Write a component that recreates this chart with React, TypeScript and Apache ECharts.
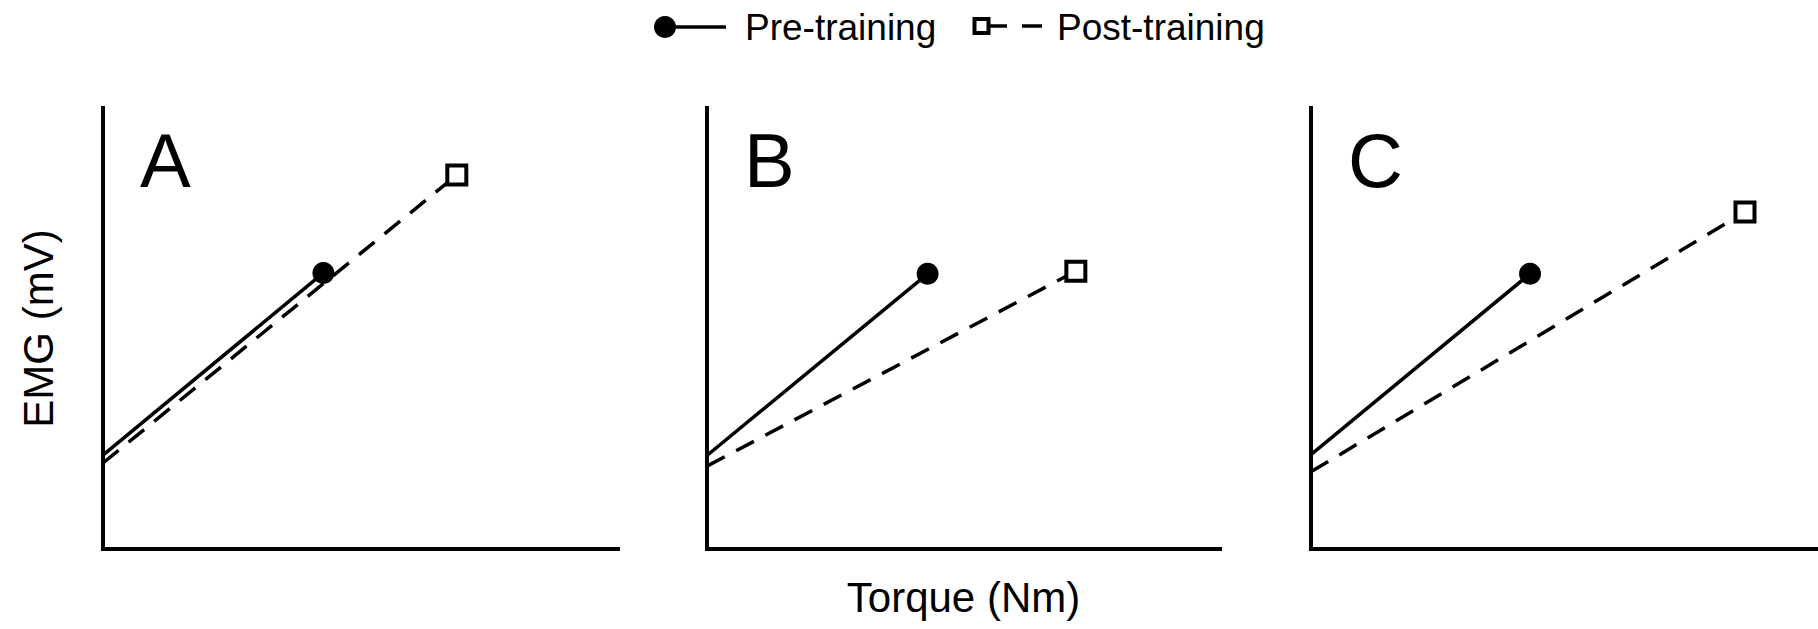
import React, { useEffect, useRef } from "react";
import * as echarts from "echarts";

// ---- data (arbitrary units, 0-100 on each axis) ----
const panelLabels = ["A", "B", "C"];
const preIntercept = [21.3, 21.2, 21.4];
const preTorque = [42.8, 43.0, 43.2];
const preEMG = [62.6, 62.4, 62.4];
const postIntercept = [19.5, 18.8, 17.5];
const postTorque = [68.7, 71.9, 85.6];
const postEMG = [84.8, 63.0, 76.4];
const legendNames = ["Pre-training", "Post-training"];
const xAxisTitle = "Torque (Nm)";
const yAxisTitle = "EMG (mV)";

// ---- layout ----
const gridLefts = [103, 707, 1311];
const gridWidths = [515, 513, 507];
const GRID_TOP = 108;
const GRID_H = 441;
const FONT = "'Liberation Sans', Arial, Helvetica, sans-serif";

export default function App() {
  const ref = useRef<HTMLDivElement>(null);

  useEffect(() => {
    document.body.style.margin = "0";
    if (!ref.current) return;
    const chart = echarts.init(ref.current, undefined, { renderer: "svg" });

    const axisLine = { show: true, lineStyle: { color: "#000", width: 4, cap: "square" } };

    const grids = panelLabels.map((_, i) => ({
      left: gridLefts[i],
      top: GRID_TOP,
      width: gridWidths[i],
      height: GRID_H,
      containLabel: false,
    }));

    const xAxes = panelLabels.map((_, i) => ({
      type: "value",
      gridIndex: i,
      min: 0,
      max: 100,
      axisLine,
      axisTick: { show: false },
      axisLabel: { show: false },
      splitLine: { show: false },
    }));
    const yAxes = panelLabels.map((_, i) => ({
      type: "value",
      gridIndex: i,
      min: 0,
      max: 100,
      axisLine,
      axisTick: { show: false },
      axisLabel: { show: false },
      splitLine: { show: false },
    }));

    const series: any[] = [];
    panelLabels.forEach((_, i) => {
      series.push({
        name: legendNames[1],
        type: "line",
        xAxisIndex: i,
        yAxisIndex: i,
        data: [
          { value: [0, postIntercept[i]], symbol: "none" },
          { value: [postTorque[i], postEMG[i]] },
        ],
        symbol: "rect",
        symbolSize: 19,
        showSymbol: true,
        lineStyle: { color: "#000", width: 3.5, type: [20, 13] },
        itemStyle: { color: "#fff", borderColor: "#000", borderWidth: 4 },
        z: 2,
        silent: true,
      });
      series.push({
        name: legendNames[0],
        type: "line",
        xAxisIndex: i,
        yAxisIndex: i,
        data: [
          { value: [0, preIntercept[i]], symbol: "none" },
          { value: [preTorque[i], preEMG[i]] },
        ],
        symbol: "circle",
        symbolSize: 22,
        showSymbol: true,
        lineStyle: { color: "#000", width: 3.5 },
        itemStyle: { color: "#000", borderWidth: 0 },
        z: 3,
        silent: true,
      });
    });

    const textStyle = (text: string, size: number, align: string, vAlign: string) => ({
      text,
      font: `${size}px ${FONT}`,
      fill: "#000",
      align,
      verticalAlign: vAlign,
    });

    const graphic: any[] = [
      // panel letters
      ...panelLabels.map((t, i) => ({
        type: "text",
        x: gridLefts[i] + 37,
        y: 122,
        style: textStyle(t, 76, "left", "top"),
      })),
      // axis titles
      {
        type: "text",
        x: 38,
        y: GRID_TOP + GRID_H / 2,
        rotation: Math.PI / 2,
        style: textStyle(yAxisTitle, 42, "center", "middle"),
      },
      {
        type: "text",
        x: gridLefts[1] + gridWidths[1] / 2,
        y: 576,
        style: textStyle(xAxisTitle, 42, "center", "top"),
      },
      // legend: pre-training
      {
        type: "line",
        shape: { x1: 665, y1: 27, x2: 726, y2: 27 },
        style: { stroke: "#000", lineWidth: 3.5 },
      },
      {
        type: "circle",
        shape: { cx: 665, cy: 27, r: 11 },
        style: { fill: "#000" },
      },
      {
        type: "text",
        x: 745,
        y: 9,
        style: textStyle(legendNames[0], 37, "left", "top"),
      },
      // legend: post-training
      {
        type: "line",
        shape: { x1: 988, y1: 26, x2: 1007, y2: 26 },
        style: { stroke: "#000", lineWidth: 3.5 },
      },
      {
        type: "line",
        shape: { x1: 1022, y1: 26, x2: 1042, y2: 26 },
        style: { stroke: "#000", lineWidth: 3.5 },
      },
      {
        type: "rect",
        shape: { x: 974.5, y: 19, width: 14, height: 14 },
        style: { fill: "#fff", stroke: "#000", lineWidth: 4 },
      },
      {
        type: "text",
        x: 1057,
        y: 9,
        style: textStyle(legendNames[1], 37, "left", "top"),
      },
    ];

    chart.setOption({
      animation: false,
      backgroundColor: "#fff",
      grid: grids,
      xAxis: xAxes,
      yAxis: yAxes,
      series,
      graphic,
    });

    return () => chart.dispose();
  }, []);

  return <div ref={ref} style={{ width: 1818, height: 629 }} />;
}
